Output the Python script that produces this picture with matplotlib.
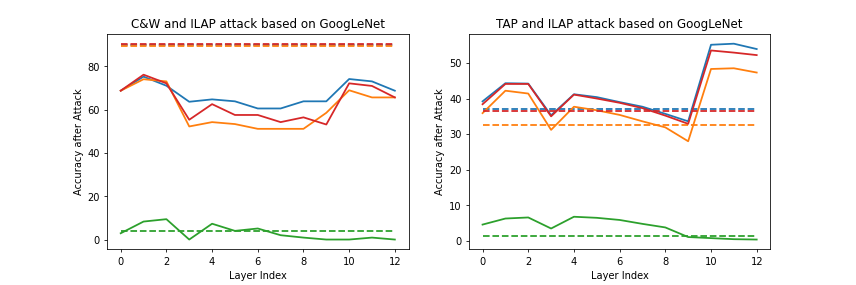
import numpy as np
import matplotlib
matplotlib.use("Agg")
import matplotlib.pyplot as plt

layers = list(range(13))

# C&W panel
cw_blue = [68.7, 75.2, 71.0, 63.6, 64.7, 63.8, 60.5, 60.5, 63.8, 63.8, 74.1, 73.0, 68.7]
cw_orange = [68.7, 74.0, 73.0, 52.2, 54.2, 53.3, 51.1, 51.1, 51.1, 58.5, 68.9, 65.6, 65.6]
cw_green = [2.9, 8.3, 9.4, 0.0, 7.3, 4.0, 5.1, 2.0, 0.9, 0.0, 0.0, 0.9, 0.0]
cw_red = [68.7, 76.1, 72.1, 55.3, 62.5, 57.5, 57.5, 54.2, 56.4, 53.1, 72.1, 70.9, 65.6]
cw_base = [90.0, 89.5, 4.0, 90.4]

# TAP panel
tap_blue = [39.2, 44.3, 44.2, 35.3, 41.2, 40.4, 39.0, 37.7, 35.7, 33.6, 55.1, 55.4, 53.9]
tap_orange = [35.9, 42.2, 41.4, 31.2, 37.7, 36.7, 35.4, 33.6, 31.9, 28.0, 48.3, 48.5, 47.3]
tap_green = [4.6, 6.3, 6.6, 3.5, 6.8, 6.5, 5.9, 4.8, 3.8, 1.1, 0.8, 0.5, 0.4]
tap_red = [38.4, 44.1, 44.1, 35.0, 41.1, 40.0, 38.8, 37.3, 35.2, 32.9, 53.5, 52.9, 52.2]
tap_base = [37.1, 32.6, 1.3, 36.4]

colors = ["tab:blue", "tab:orange", "tab:green", "tab:red"]

panels = [
    ("C&W and ILAP attack based on GoogLeNet", [cw_blue, cw_orange, cw_green, cw_red], cw_base),
    ("TAP and ILAP attack based on GoogLeNet", [tap_blue, tap_orange, tap_green, tap_red], tap_base),
]

fig, axes = plt.subplots(1, 2, figsize=(12, 4), dpi=856 / 12)
fig.subplots_adjust(bottom=0.125)
for ax, (title, series, base) in zip(axes, panels):
    for ys, b, c in zip(series, base, colors):
        ax.plot(layers, ys, color=c, linewidth=1.8)
        ax.plot(layers, [b] * len(layers), color=c, linestyle="--", linewidth=1.8)
    ax.set_title(title)
    ax.set_xlabel("Layer Index")
    ax.set_ylabel("Accuracy after Attack")
fig.savefig("out.png", dpi=856 / 12)
